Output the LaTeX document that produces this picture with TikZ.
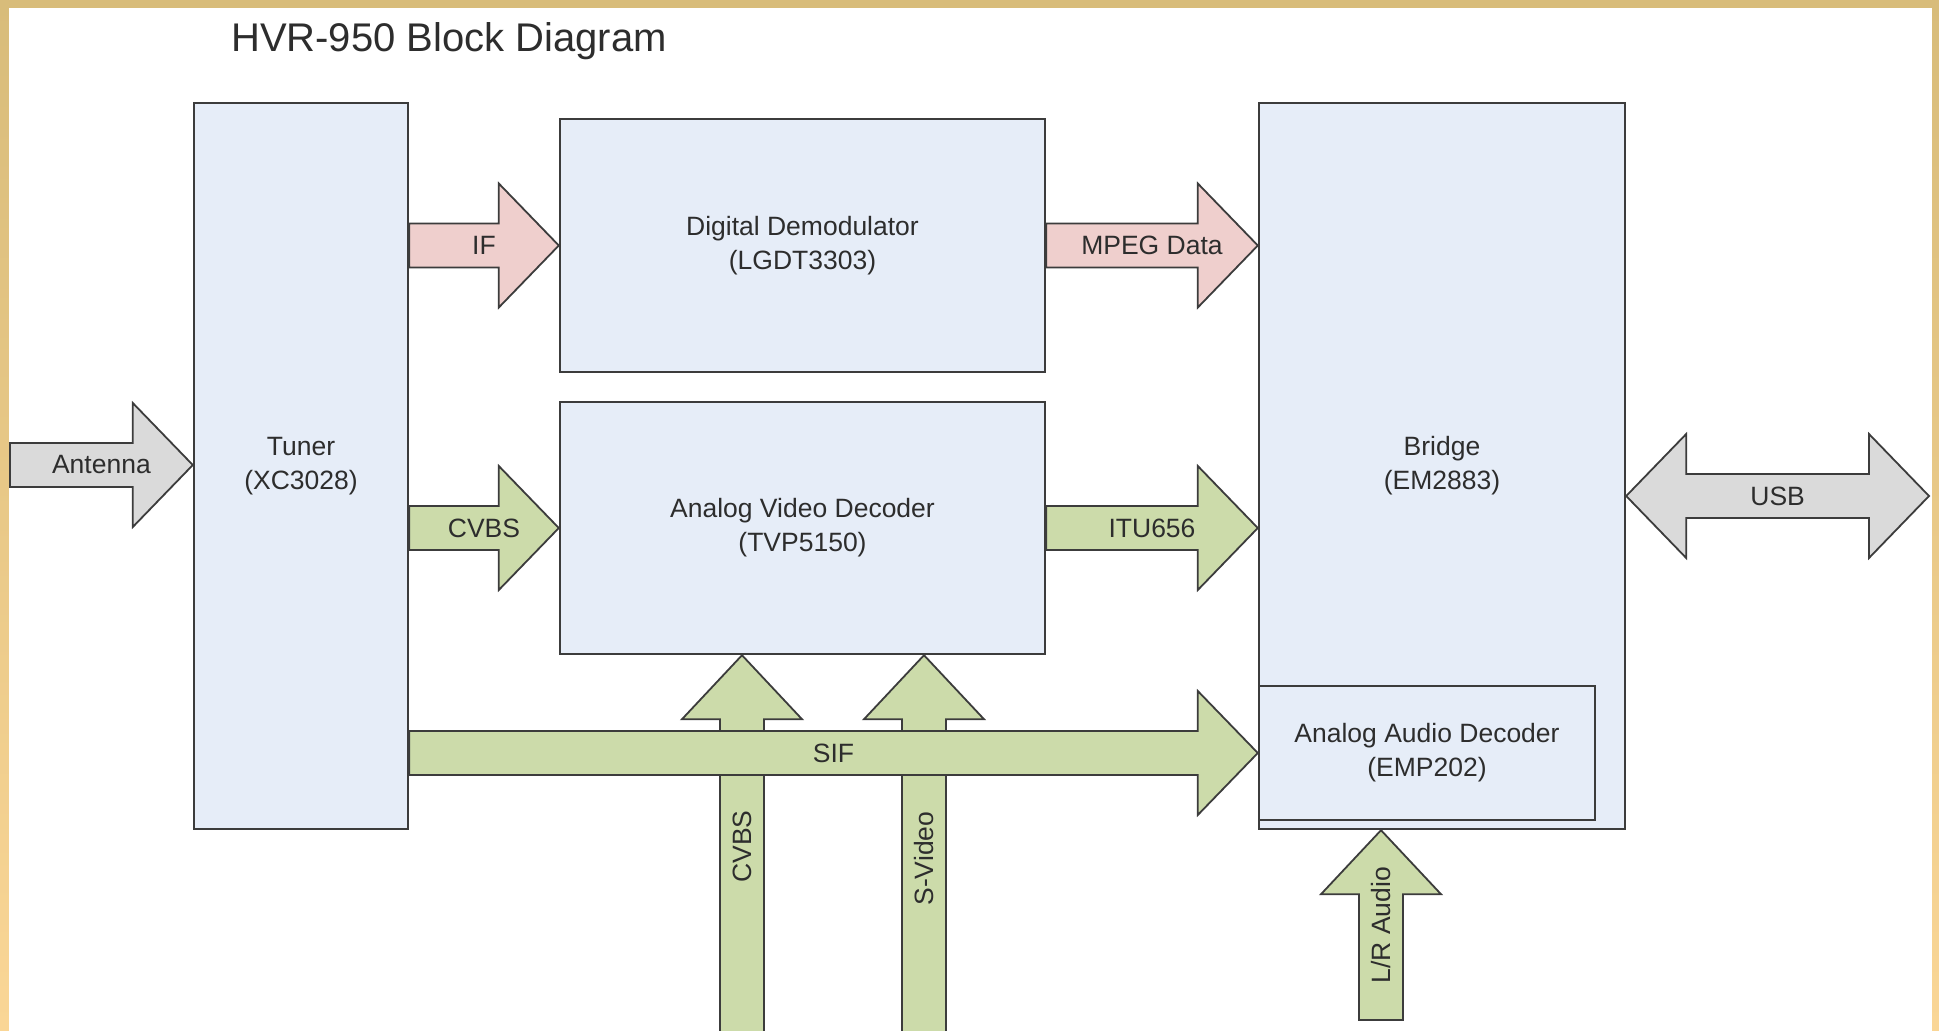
\documentclass[tikz,border=0pt]{standalone}
\usepackage{fontspec}
\setmainfont{Liberation Sans}
\usetikzlibrary{calc}

\definecolor{boxfill}{RGB}{230,237,248}
\definecolor{linegray}{RGB}{60,60,60}
\definecolor{pinkfill}{RGB}{239,207,205}
\definecolor{greenfill}{RGB}{204,219,170}
\definecolor{grayfill}{RGB}{218,218,218}
\definecolor{frametop}{RGB}{216,188,122}
\definecolor{framebot}{RGB}{250,214,150}
\definecolor{txt}{RGB}{45,45,45}

\tikzset{
  block/.style={draw=linegray,line width=2.4pt,fill=boxfill,text=txt,align=center,
    inner sep=0pt,font=\fontsize{26.5}{34}\selectfont},
  fat/.style={draw=linegray,line width=1.8pt,line join=miter},
  pinkarrow/.style={fat,fill=pinkfill},
  greenarrow/.style={fat,fill=greenfill},
  grayarrow/.style={fat,fill=grayfill},
  lbl/.style={text=txt,inner sep=0pt,font=\fontsize{26.5}{34}\selectfont}
}

% fat arrow pointing right: from #1 to tip #2
\newcommand{\blockarrowR}[4]{%
  \draw[#3] ($(#1)+(0,-22)$) -- ($(#2)+(-60,-22)$) -- ($(#2)+(-60,-62)$) -- (#2)
    -- ($(#2)+(-60,62)$) -- ($(#2)+(-60,22)$) -- ($(#1)+(0,22)$) -- cycle;
  \node[lbl] at ($(#1)!.5!(#2)$) {#4};}
% fat arrow pointing up: from #1 to tip #2
\newcommand{\blockarrowU}[4]{%
  \draw[#3] ($(#1)+(-22,0)$) -- ($(#2)+(-22,64)$) -- ($(#2)+(-60,64)$) -- (#2)
    -- ($(#2)+(60,64)$) -- ($(#2)+(22,64)$) -- ($(#1)+(22,0)$) -- cycle;
  \node[lbl,rotate=90] at ($(#1)!.5!(#2)$) {#4};}

\begin{document}
\begin{tikzpicture}[x=1pt,y=-1pt]
  \clip (0,0) rectangle (1939,1031);
  \shade[top color=frametop,bottom color=framebot] (0,0) rectangle (1939,1031);
  \fill[white] (9,8) rectangle (1932,1040);
  \node[anchor=base west,text=txt,inner sep=0pt,font=\fontsize{40}{48}\selectfont] (title) at (231,51) {HVR-950 Block Diagram};

  \node[block,minimum width=214pt,minimum height=726pt] (tuner) at (301,466) {Tuner\\(XC3028)};
  \node[block,minimum width=485pt,minimum height=253pt] (dd) at (802.5,245.5) {Digital Demodulator\\(LGDT3303)};
  \node[block,minimum width=485pt,minimum height=252pt] (avd) at (802.5,528) {Analog Video Decoder\\(TVP5150)};
  \node[block,minimum width=366pt,minimum height=726pt] (bridge) at (1442,466) {Bridge\\(EM2883)};
  \node[block,minimum width=336pt,minimum height=134pt] (aad) at (1427,753) {Analog Audio Decoder\\(EMP202)};

  \coordinate (ant) at (10,465);
  \coordinate (usb) at (1929,496);
  \coordinate (cvbsend) at (742,1038);
  \coordinate (svidend) at (924,1062);
  \coordinate (lrend) at (1381,1020);

  \blockarrowU{cvbsend}{avd.south -| cvbsend}{greenarrow}{CVBS}
  \blockarrowU{svidend}{avd.south -| svidend}{greenarrow}{S-Video}
  \blockarrowU{lrend}{bridge.south -| lrend}{greenarrow}{L/R Audio}

  \blockarrowR{ant}{tuner.west |- ant}{grayarrow}{Antenna}
  \blockarrowR{tuner.east |- dd.west}{dd.west}{pinkarrow}{IF}
  \blockarrowR{tuner.east |- avd.west}{avd.west}{greenarrow}{CVBS}
  \blockarrowR{dd.east}{bridge.west |- dd.east}{pinkarrow}{MPEG Data}
  \blockarrowR{avd.east}{bridge.west |- avd.east}{greenarrow}{ITU656}
  \blockarrowR{tuner.east |- aad.west}{aad.west}{greenarrow}{SIF}

  % USB, heads on both ends
  \coordinate (usbl) at (bridge.east |- usb);
  \draw[grayarrow] (usbl) -- ($(usbl)+(60,-62)$) -- ($(usbl)+(60,-22)$) -- ($(usb)+(-60,-22)$)
    -- ($(usb)+(-60,-62)$) -- (usb) -- ($(usb)+(-60,62)$) -- ($(usb)+(-60,22)$)
    -- ($(usbl)+(60,22)$) -- ($(usbl)+(60,62)$) -- cycle;
  \node[lbl] at ($(usbl)!.5!(usb)$) {USB};
\end{tikzpicture}
\end{document}
